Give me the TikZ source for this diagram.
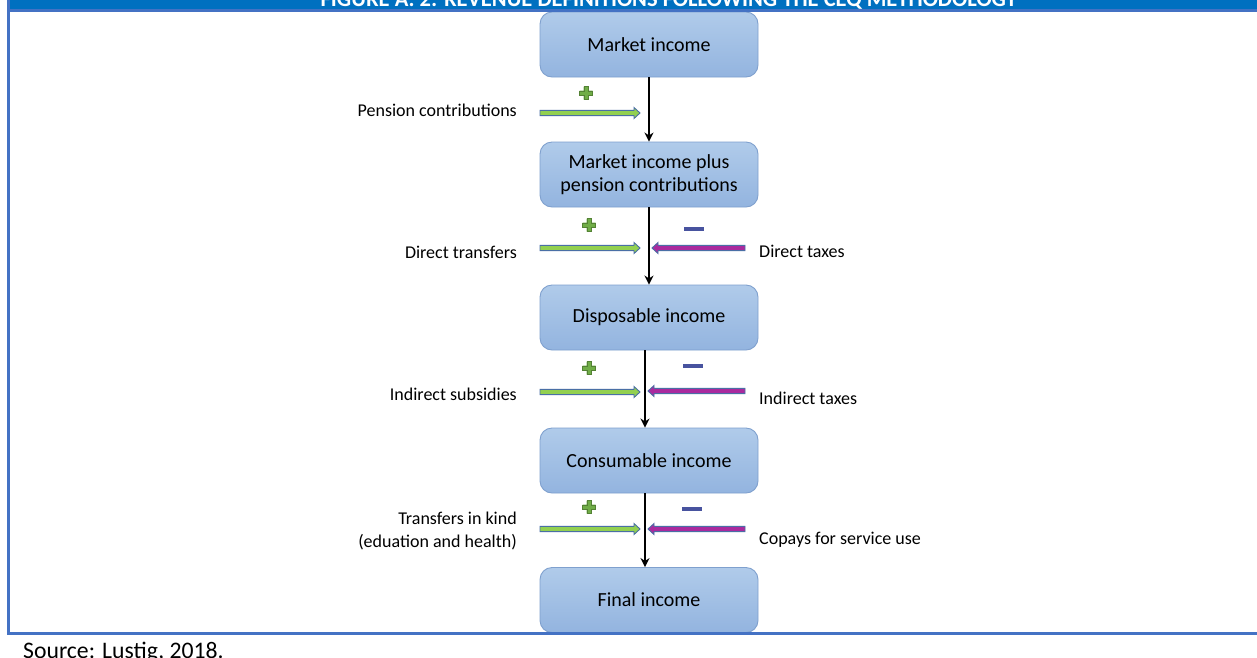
\documentclass[tikz,border=0pt]{standalone}
\usepackage{fontspec}
\setmainfont{Carlito}
\usetikzlibrary{arrows.meta,calc}
\definecolor{banner}{HTML}{0070C0}
\definecolor{frameblue}{HTML}{4472C4}
\definecolor{boxtop}{HTML}{B0CBEA}
\definecolor{boxbot}{HTML}{93B4DF}
\definecolor{boxline}{HTML}{7FA0CE}
\definecolor{plusgreen}{HTML}{70AD47}
\definecolor{plusline}{HTML}{548235}
\definecolor{minusblue}{HTML}{48539F}
\definecolor{arrgreen}{HTML}{92D050}
\definecolor{arrmag}{HTML}{AA2A9E}
\definecolor{arrline}{HTML}{4A6FA5}
\newcommand{\blockarr}[4]{%
  \pgfmathsetmacro\hd{(#2>#1) ? -6 : 6}%
  \filldraw[fill=#4, draw=arrline, line width=0.9pt, line join=miter]
    (#1,#3-2.6) -- (#2+\hd,#3-2.6) -- (#2+\hd,#3-5.5) -- (#2,#3) --
    (#2+\hd,#3+5.5) -- (#2+\hd,#3+2.6) -- (#1,#3+2.6) -- cycle;}
\newcommand{\plussign}[2]{%
  \filldraw[fill=plusgreen, draw=plusline, line width=0.4pt]
    (#1-2.3,#2-6.5) -- (#1+2.3,#2-6.5) -- (#1+2.3,#2-2.3) -- (#1+6.5,#2-2.3) -- (#1+6.5,#2+2.3) --
    (#1+2.3,#2+2.3) -- (#1+2.3,#2+6.5) -- (#1-2.3,#2+6.5) -- (#1-2.3,#2+2.3) -- (#1-6.5,#2+2.3) --
    (#1-6.5,#2-2.3) -- (#1-2.3,#2-2.3) -- cycle;}
\newcommand{\minussign}[2]{%
  \fill[minusblue] (#1-10,#2-2) rectangle (#1+10,#2+2);}
\tikzset{
  incbox/.style={rectangle, rounded corners=12pt, draw=boxline, line width=0.9pt,
    top color=boxtop, bottom color=boxbot, minimum width=218pt, minimum height=65pt,
    align=center, font=\fontsize{20}{23}\selectfont, inner sep=0pt},
  lbl/.style={font=\fontsize{18}{23}\selectfont, inner sep=0pt, align=right},
  rlbl/.style={font=\fontsize{18}{23}\selectfont, inner sep=0pt, align=left},
  varrow/.style={draw=black, line width=1.8pt, -{Stealth[length=9pt,width=9pt]}}
}
\begin{document}
\begin{tikzpicture}[x=1pt,y=-1pt]
\useasboundingbox (0,0) rectangle (1257,657);
\fill[white] (0,0) rectangle (1257,657);
% boxes
\node[incbox] (b1) at (649,44.5) {Market income};
\node[incbox] (b2) at (649,174.5) {Market income plus\\pension contributions};
\node[incbox] (b3) at (649,317.5) {Disposable income};
\node[incbox] (b4) at (649,460.5) {Consumable income};
\node[incbox] (b5) at (649,600) {Final income};
% vertical arrows
\draw[varrow] (b1.south) -- (b2.north);
\draw[varrow] (b2.south) -- (b3.north);
\draw[varrow] ([xshift=-4pt]b3.south) -- ([xshift=-4pt]b4.north);
\draw[varrow] ([xshift=-4pt]b4.south) -- ([xshift=-4pt]b5.north);
% block arrows
\blockarr{540}{640}{113}{arrgreen}
\blockarr{540}{640}{248}{arrgreen}
\blockarr{745}{652}{248}{arrmag}
\blockarr{540}{640}{392}{arrgreen}
\blockarr{745}{648}{391}{arrmag}
\blockarr{540}{640}{529}{arrgreen}
\blockarr{745}{648}{529}{arrmag}
% signs
\plussign{586}{93}
\plussign{589}{225}
\plussign{589}{368}
\plussign{589}{507}
\minussign{694}{229}
\minussign{693}{366}
\minussign{692}{509}
% labels
\node[lbl, anchor=east] (l1) at (517,110) {Pension contributions};
\node[lbl, anchor=east] (l2) at (517,252) {Direct transfers};
\node[rlbl, anchor=west] (r2) at (759,251) {Direct taxes};
\node[lbl, anchor=east] (l3) at (517,394) {Indirect subsidies};
\node[rlbl, anchor=west] (r3) at (759,398) {Indirect taxes};
\node[lbl, anchor=east] (l4) at (517,531) {Transfers in kind\\(eduation and health)};
\node[rlbl, anchor=west] (r4) at (759,540) {Copays for service use};
% frame
\fill[banner] (10,0) rectangle (1257,9);
\begin{scope}
\clip (10,0) rectangle (1257,9);
\node[anchor=base, text=white, font=\bfseries\fontsize{22.5}{26}\selectfont, inner sep=0pt] (title) at (669,6) {FIGURE A. 2: REVENUE DEFINITIONS FOLLOWING THE CEQ METHODOLOGY};
\end{scope}
\fill[frameblue] (10,9) rectangle (1257,12);
\fill[frameblue] (7,0) rectangle (10,635);
\fill[frameblue] (7,632) rectangle (1257,635);
\begin{scope}
\clip (0,635) rectangle (1257,657);
\node[anchor=base west, font=\fontsize{23.7}{26}\selectfont, inner sep=0pt] (src) at (23,658) {Source: Lustig, 2018.};
\end{scope}
\end{tikzpicture}
\end{document}
